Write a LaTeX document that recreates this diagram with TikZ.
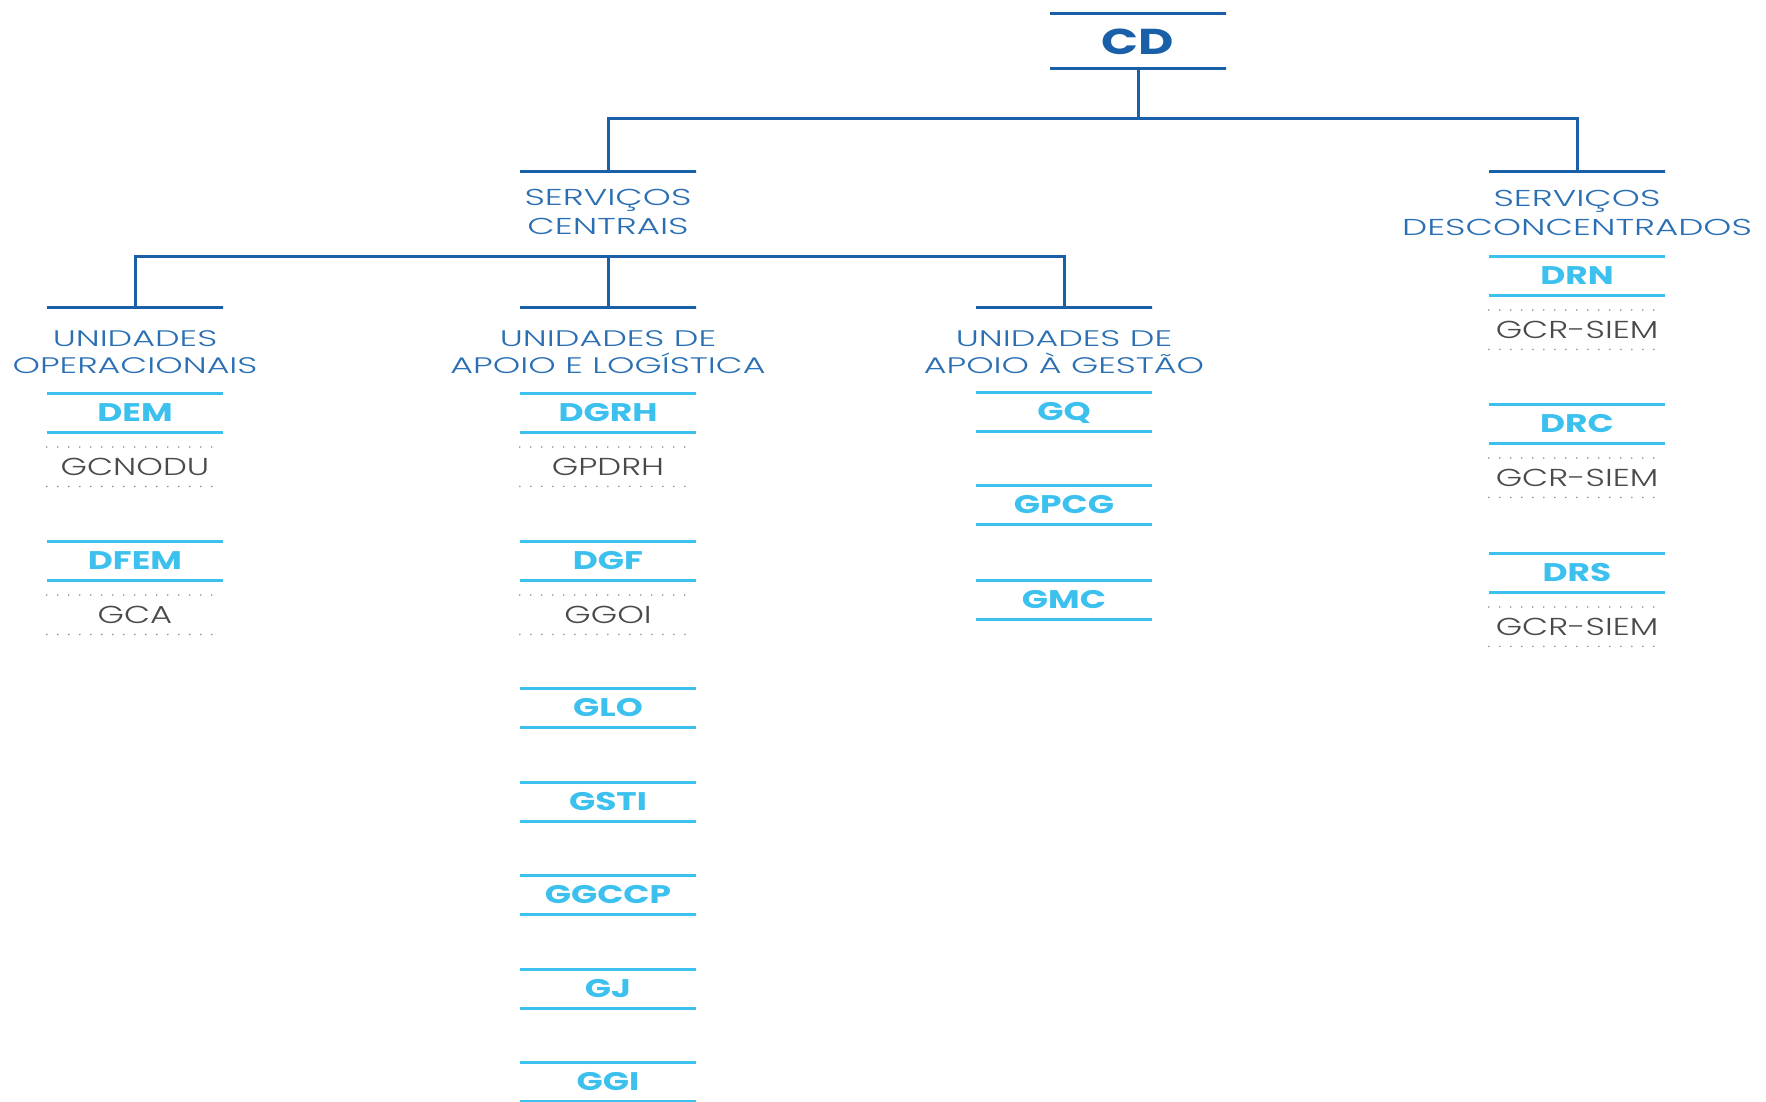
\documentclass[tikz,border=0pt]{standalone}
\usepackage{fontspec}
\setmainfont{Poppins}[FakeStretch=1.35]
\newfontfamily\lightfont{Poppins Light}[FakeStretch=1.38]
\newfontfamily\hdrfont{Poppins Light}[FakeStretch=1.55]
\definecolor{navy}{HTML}{1A60A9}
\definecolor{navytxt}{HTML}{2A6FB3}
\definecolor{sky}{HTML}{3CC0EE}
\definecolor{greytxt}{HTML}{4A4A4A}
\definecolor{dotgrey}{HTML}{8C8C8C}
\begin{document}
\begin{tikzpicture}[x=1pt,y=-1pt,
  navyrule/.style={draw=navy, line width=3pt, shape=rectangle, minimum width=176pt, minimum height=0pt, inner sep=0pt},
  link/.style={draw=navy, line width=3pt},
  hdr/.style={text=navytxt, font=\hdrfont\fontsize{22.5}{27.5}\selectfont, align=center, inner sep=0pt, anchor=north},
  hdrwide/.style={hdr, font=\hdrfont\fontsize{23}{29.5}\selectfont},
  unitbox/.style={minimum width=176pt, minimum height=39pt, inner sep=0pt, anchor=north, text=sky, font=\fontsize{25.5}{30}\selectfont\bfseries, text height=18pt, text depth=0pt},
  subbox/.style={minimum width=176pt, minimum height=39pt, inner sep=0pt, anchor=north, text=greytxt, font=\lightfont\fontsize{24.5}{28}\selectfont, text height=17pt, text depth=0pt},
  skyline/.style={draw=sky, line width=3pt},
  dotline/.style={draw=dotgrey, line width=1.8pt, line cap=round, dash pattern=on 0pt off 11pt},
]
\useasboundingbox (0,0) rectangle (1766,1102);

% board
\node[navyrule] (cdtop) at (1138,14) {};
\node[navyrule] (cdbot) at (1138,69) {};
\node[text=navy, font=\fontsize{36}{40}\selectfont\bfseries, inner sep=0pt, text height=25pt, text depth=0pt] (cd) at (1138,42) {CD};

% second level
\node[navyrule] (scr) at (608,172) {};
\node[hdrwide] (sc) at (608,189) {SERVIÇOS\\CENTRAIS};
\node[navyrule] (sdr) at (1577,172) {};
\node[hdrwide] (sd) at (1577,190) {SERVIÇOS\\DESCONCENTRADOS};

% third level headers
\node[navyrule] (uor) at (135,307) {};
\node[hdr] (uo) at (135,330) {UNIDADES\\OPERACIONAIS};
\node[navyrule] (alr) at (608,307) {};
\node[hdr] (al) at (608,330) {UNIDADES DE\\APOIO E LOGÍSTICA};
\node[navyrule] (agr) at (1064,307) {};
\node[hdr] (ag) at (1064,330) {UNIDADES DE\\APOIO À GESTÃO};

% connectors
\coordinate (j1) at (1138,119);
\draw[link] (cdbot.center) -- (j1);
\draw[link] (scr.center) |- (j1) -| (sdr.center);
\coordinate (j2) at (608,256);
\draw[link] (uor.center) |- (j2) -| (agr.center);
\draw[link] (j2) -- (alr.center);

% operational units
\node[unitbox] (dem) at (135,393) {DEM};
\node[subbox] (gcnodu) at (135,447) {GCNODU};
\node[unitbox] (dfem) at (135,541) {DFEM};
\node[subbox] (gca) at (135,595) {GCA};

% support and logistics
\node[unitbox] (dgrh) at (608,393) {DGRH};
\node[subbox] (gpdrh) at (608,447) {GPDRH};
\node[unitbox] (dgf) at (608,541) {DGF};
\node[subbox] (ggoi) at (608,595) {GGOI};
\node[unitbox] (glo) at (608,688) {GLO};
\node[unitbox] (gsti) at (608,782) {GSTI};
\node[unitbox] (ggccp) at (608,875) {GGCCP};
\node[unitbox] (gj) at (608,969) {GJ};
\node[unitbox] (ggi) at (608,1062) {GGI};

% management support
\node[unitbox] (gq) at (1064,392) {GQ};
\node[unitbox] (gpcg) at (1064,485) {GPCG};
\node[unitbox] (gmc) at (1064,580) {GMC};

% regional services
\node[unitbox] (drn) at (1577,256) {DRN};
\node[subbox] (gcra) at (1577,310) {GCR-SIEM};
\node[unitbox] (drc) at (1577,404) {DRC};
\node[subbox] (gcrb) at (1577,458) {GCR-SIEM};
\node[unitbox] (drs) at (1577,553) {DRS};
\node[subbox] (gcrc) at (1577,607) {GCR-SIEM};

\foreach \n in {dem,dfem,dgrh,dgf,glo,gsti,ggccp,gj,ggi,gq,gpcg,gmc,drn,drc,drs}
  \draw[skyline] (\n.north west) -- (\n.north east) (\n.south west) -- (\n.south east);
\foreach \n in {gcnodu,gca,gpdrh,ggoi,gcra,gcrb,gcrc}
  \draw[dotline] (\n.north west) -- ([xshift=-8pt]\n.north east)
                 (\n.south west) -- ([xshift=-8pt]\n.south east);
\end{tikzpicture}
\end{document}
